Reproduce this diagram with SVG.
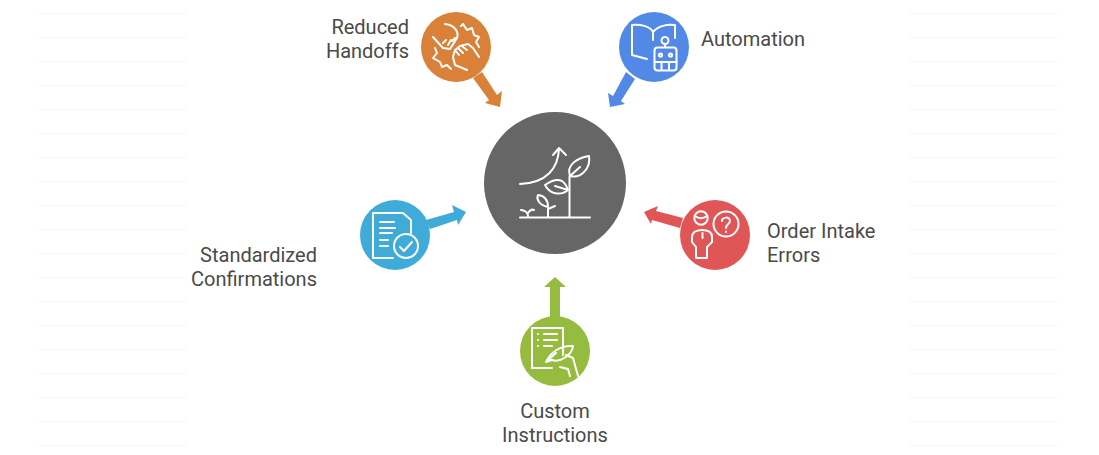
<svg xmlns="http://www.w3.org/2000/svg" width="1099" height="455" viewBox="0 0 1099 455">
<style>
.t{font-family:Roboto,"Liberation Sans",sans-serif;font-size:20px;fill:#4a4a4a}
.i{fill:none;stroke:#fff;stroke-width:2;stroke-linecap:round;stroke-linejoin:round}
.g{fill:#fafafa}
</style>
<defs>
<g id="rules">
<rect class="g" x="0" y="13" width="149" height="2"/><rect class="g" x="0" y="37" width="149" height="2"/><rect class="g" x="0" y="61" width="149" height="2"/><rect class="g" x="0" y="85" width="149" height="2"/><rect class="g" x="0" y="109" width="149" height="2"/><rect class="g" x="0" y="133" width="149" height="2"/><rect class="g" x="0" y="157" width="149" height="2"/><rect class="g" x="0" y="181" width="149" height="2"/><rect class="g" x="0" y="205" width="149" height="2"/><rect class="g" x="0" y="229" width="149" height="2"/><rect class="g" x="0" y="253" width="149" height="2"/><rect class="g" x="0" y="277" width="149" height="2"/><rect class="g" x="0" y="301" width="149" height="2"/><rect class="g" x="0" y="325" width="149" height="2"/><rect class="g" x="0" y="349" width="149" height="2"/><rect class="g" x="0" y="373" width="149" height="2"/><rect class="g" x="0" y="397" width="149" height="2"/><rect class="g" x="0" y="421" width="149" height="2"/><rect class="g" x="0" y="445" width="149" height="2"/>
</g>
</defs>
<rect width="1099" height="455" fill="#fff"/>
<use href="#rules" x="38"/>
<use href="#rules" x="909"/>

<g id="connectors">
<path fill="#d98138" d="M473 78L482 72L497 95L502 91L500 107L485 103L489 100Z"/>
<path fill="#5389e6" d="M626 72L635 79L621 101L625 104L610 107L608 93L613 96Z"/>
<path fill="#3fabd8" d="M426 220L454 212L452 205L466 212L458 225L457 220L430 229Z"/>
<path fill="#e05555" d="M683 218L656 211L658 206L644 212L651 224L652 220L680 228Z"/>
<path fill="#95bb3f" d="M550 317V287H544L555 277L566 287H560V317Z"/>
</g>

<g id="node-center">
<circle cx="555" cy="183" r="71" fill="#666"/>
<g class="i">
<path d="M520 217.500H590"/>
<path d="M569.500 217V176"/>
<path d="M570 176C566 165 577 158 589 156C591 168 581 179 570 176ZM570 176L580 167"/>
<path d="M520 184C547 183 558 168 559 149M553 155L559 148L566 155"/>
<path d="M545 185C552 180 558 179 562 181C565 183 567 187 568 190C562 195 551 196 545 185ZM555 186L568 190"/>
<path d="M548 217V207C548 201 546 196 538 195C536 199 539 205 548 207M548 209L555 206"/>
<path d="M521 210C529 211 528 217 528 217M528 213C530 210 532 209 534 210"/>
</g>
</g>

<g id="node-reduced-handoffs">
<circle cx="456" cy="47" r="35" fill="#d98138"/>
<g class="i">
<path d="M445 24C455 25 459 32 457 38L450 49L443 48L433 37M443 43L446 40M448 45L451 40M452 41L455 38"/>
<path d="M461 26L463 24L467 30L472 28L474 35L479 37L476 42L479 47"/>
<path d="M435 48L437 53L433 58L440 62L442 67L447 65L451 69"/>
<path d="M479 57L473 48L468 44L460 46L455 50L453 57L455 65L467 70M455 50L459 55M458 48L463 53M463 47L467 50"/>
</g>
</g>

<g id="node-automation">
<circle cx="654" cy="47" r="35" fill="#5389e6"/>
<g class="i">
<path d="M632 55V25C640 24 650 26 653 32V40M653 32C658 26 667 24 675 25V38M632 55L647 59"/>
<circle cx="665" cy="40.500" r="3.500"/>
<path d="M665 44V47"/>
<rect x="654.500" y="47.500" width="22" height="23" rx="3"/>
<circle cx="660.500" cy="55" r="1.600"/><circle cx="670.500" cy="55" r="1.600"/>
<path d="M654.500 62H676.500M661.500 62V70M669 62V70"/>
</g>
</g>

<g id="node-standardized-confirmations">
<circle cx="395" cy="235" r="35" fill="#3fabd8"/>
<g class="i">
<path d="M393 258H373V213H403L411 220V233"/>
<path d="M380 222H394M380 228H395M380 233H392M380 240H388M380 246H388"/>
<circle cx="406" cy="246" r="12"/>
<path d="M400 247L404 251L412 242"/>
</g>
</g>

<g id="node-order-intake-errors">
<circle cx="715" cy="235" r="35" fill="#e05555"/>
<g class="i">
<circle cx="701" cy="218" r="6.700"/>
<path d="M695 216C699 219 703 219 707 216"/>
<path d="M696 258V247L692 242V237C692 232 697 230 702 230C708 230 712 232 712 237V242L707 247V258Z"/>
<path d="M702.500 233V238"/>
<circle cx="726" cy="224" r="12.500"/>
<path d="M722 221C722 217 730 216 730 221C730 224 726 224 726 228"/>
<path d="M726 231.500V232"/>
</g>
</g>

<g id="node-custom-instructions">
<circle cx="555" cy="351" r="35" fill="#95bb3f"/>
<g class="i">
<path d="M552 368H532V328H563V355"/>
<path d="M538 334V334.100M538 340V340.100M538 346V346.100M544 334H557M544 340H557M544 346H552"/>
<path d="M546 362C550 353 560 345 573 346C572 355 560 363 552 360ZM546 362L556 353"/>
<path d="M560 367L568 369L570 376M566 355L573 358L578 376"/>
</g>
</g>

<g id="labels">
<text class="t" text-anchor="end" x="409" y="34">Reduced</text>
<text class="t" text-anchor="end" x="409" y="58">Handoffs</text>
<text class="t" x="701" y="46">Automation</text>
<text class="t" x="767" y="238">Order Intake</text>
<text class="t" x="767" y="262">Errors</text>
<text class="t" text-anchor="end" x="317" y="262">Standardized</text>
<text class="t" text-anchor="end" x="317" y="286">Confirmations</text>
<text class="t" text-anchor="middle" x="555" y="418">Custom</text>
<text class="t" text-anchor="middle" x="555" y="442">Instructions</text>
</g>
</svg>
